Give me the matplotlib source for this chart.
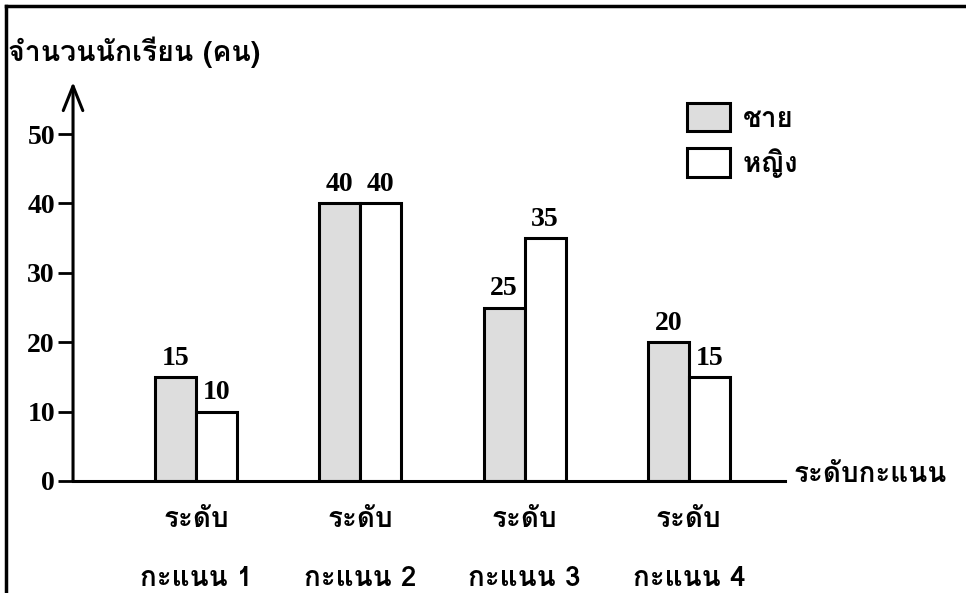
import matplotlib
matplotlib.use("Agg")
import matplotlib.pyplot as plt
from matplotlib import font_manager
from matplotlib.ft2font import FT2Font
from matplotlib.patches import Patch
from matplotlib.lines import Line2D

# data
groups = ["ระดับ\nกะแนน 1", "ระดับ\nกะแนน 2", "ระดับ\nกะแนน 3", "ระดับ\nกะแนน 4"]
boys = [15, 40, 25, 20]
girls = [10, 40, 35, 15]
series_names = ["ชาย", "หญิง"]
yticks = [0, 10, 20, 30, 40, 50]


# find an installed family that can draw Thai, bold if possible
def find_thai_family():
    best = None
    for f in font_manager.fontManager.ttflist:
        try:
            ft = FT2Font(f.fname)
            if ft.get_char_index(0x0E01) == 0:
                continue
        except Exception:
            continue
        w = f.weight if isinstance(f.weight, int) else 400
        if best is None or (w >= 600 and best[1] < 600):
            best = (f.name, w)
    return best[0] if best else "DejaVu Sans"


thai = find_thai_family()
thai_fam = [thai, "Liberation Serif", "DejaVu Sans"]
num_fam = ["Liberation Serif", "DejaVu Serif"]

fig = plt.figure(figsize=(9.66, 5.93), dpi=100)
ax = fig.add_axes([0.0756, 0.1889, 0.8126 - 0.0756, 0.8617 - 0.1889])

x = list(range(1, len(groups) + 1))
w = 0.25
ax.bar([i - w / 2 for i in x], boys, width=w, color="#dddddd", edgecolor="black", linewidth=2.2, label=series_names[0])
ax.bar([i + w / 2 for i in x], girls, width=w, color="white", edgecolor="black", linewidth=2.2, label=series_names[1])

for i, v in zip(x, boys):
    ax.text(i - w / 2, v + 0.9, str(v), ha="center", va="bottom", fontsize=20, fontweight="bold", family=num_fam)
for i, v in zip(x, girls):
    ax.text(i + w / 2, v + 0.9, str(v), ha="center", va="bottom", fontsize=20, fontweight="bold", family=num_fam)

ax.set_xlim(0.251, 4.585)
ax.set_ylim(0, 57.5)

for s in ["top", "right", "left"]:
    ax.spines[s].set_visible(False)
ax.spines["bottom"].set_linewidth(2.2)

# y axis with an open arrow head
ax.annotate("", xy=(0, 1), xytext=(0, 0), xycoords="axes fraction",
            arrowprops=dict(arrowstyle="->,head_length=0.8,head_width=0.32", lw=2.2, color="black",
                            shrinkA=0, shrinkB=0, mutation_scale=22))

ax.set_yticks(yticks)
ax.set_yticklabels([str(t) for t in yticks], fontsize=20, fontweight="bold", family=num_fam)
ax.tick_params(axis="y", length=11, width=2, pad=2)

ax.set_xticks(x)
ax.set_xticklabels(groups, fontsize=20, fontweight="bold", family=thai_fam, linespacing=2.7)
ax.tick_params(axis="x", length=0, pad=19)

fig.text(0.008, 0.912, "จำนวนนักเรียน (คน)", fontsize=20.5, fontweight="bold", family=thai_fam, va="center", ha="left")
fig.text(0.821, 0.199, "ระดับกะแนน", fontsize=20, fontweight="bold", family=thai_fam, va="center", ha="left")

handles = [Patch(facecolor="#dddddd", edgecolor="black", linewidth=2.2),
           Patch(facecolor="white", edgecolor="black", linewidth=2.2)]
fig.legend(handles, series_names, loc="upper left", bbox_to_anchor=(687 / 966, 1 - 103 / 593),
           frameon=False, borderpad=0, borderaxespad=0, handlelength=1.55, handleheight=1.2,
           labelspacing=0.6, handletextpad=0.45, prop=dict(family=thai_fam, size=20, weight="bold"))

# frame lines at top and left of the picture
fig.add_artist(Line2D([6 / 966, 1], [1 - 6 / 593, 1 - 6 / 593], color="black", lw=2.5, transform=fig.transFigure))
fig.add_artist(Line2D([6 / 966, 6 / 966], [0, 1 - 6 / 593], color="black", lw=2.5, transform=fig.transFigure))

fig.savefig("out.png", dpi=100)
